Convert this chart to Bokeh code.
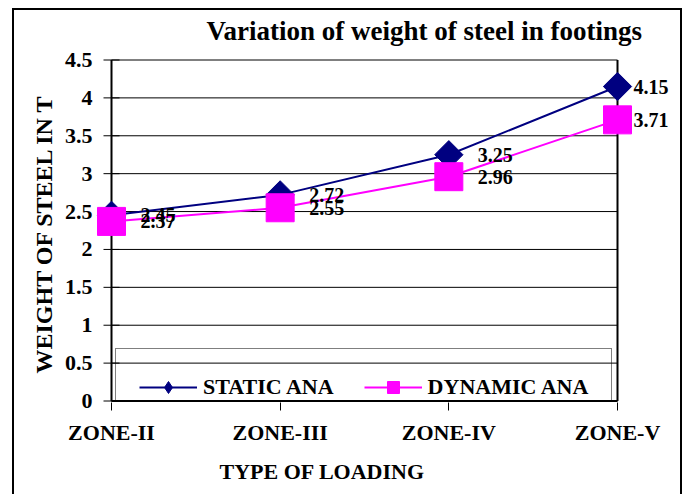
import math
from bokeh.plotting import figure
from bokeh.models import (Range1d, FixedTicker, NumeralTickFormatter,
                          Legend, LegendItem, LabelSet, ColumnDataSource, Title)
from bokeh.embed import file_html
from bokeh.resources import INLINE

categories = ["ZONE-II", "ZONE-III", "ZONE-IV", "ZONE-V"]
static_ana = [2.45, 2.72, 3.25, 4.15]
dynamic_ana = [2.37, 2.55, 2.96, 3.71]
y_ticks = [0, 0.5, 1, 1.5, 2, 2.5, 3, 3.5, 4, 4.5]

FONT = "Liberation Serif"
NAVY = "#000080"
MAGENTA = "#FF00FF"

xi = list(range(len(categories)))
x_first, x_last = xi[0], xi[-1]
y_lo, y_hi = y_ticks[0], y_ticks[-1]

# the frame is wider than the category span so markers and value labels are not cut
PX_PER_X = 506 / (x_last - x_first)
XPAD_L = 16 / PX_PER_X
XPAD_R = 63 / PX_PER_X
YPAD = 1.5 / (341 / (y_hi - y_lo))

p = figure(
    x_range=Range1d(x_first - XPAD_L, x_last + XPAD_R),
    y_range=Range1d(y_lo - YPAD, y_hi + YPAD),
    width=670, height=494,
    output_backend="svg", toolbar_location=None,
    min_border_left=83, min_border_right=2, min_border_top=57, min_border_bottom=92,
)
p.margin = (0, 0, 0, 12)
LINE = "linear-gradient(#000, #000)"
p.styles = {"background": (f"{LINE} 0 8px / 100% 2px no-repeat, "
                           f"{LINE} 0 8px / 2px 100% no-repeat, "
                           f"{LINE} 100% 8px / 2px 100% no-repeat, #fff")}
p.border_fill_alpha = 0
p.background_fill_alpha = 0

p.outline_line_color = None
p.xgrid.grid_line_color = None
p.ygrid.grid_line_color = None

# title
p.title.text = "Variation  of weight of steel in  footings"
p.title.text_font = FONT
p.title.text_font_size = "27px"
p.title.text_font_style = "bold"
p.title.text_color = "black"
p.title.align = "left"
p.title.offset = 111
p.title.standoff = 26

# axes
p.yaxis.ticker = FixedTicker(ticks=y_ticks)
p.yaxis.formatter = NumeralTickFormatter(format="0.[0]")
p.yaxis.axis_label = "WEIGHT OF STEEL  IN T"
p.yaxis.axis_label_standoff = 5
p.yaxis.axis_line_color = None
p.yaxis.major_tick_line_color = None
p.yaxis.major_tick_out = 0
p.yaxis.major_tick_in = 0
p.yaxis.major_label_standoff = 3

p.xaxis.ticker = FixedTicker(ticks=xi)
p.xaxis.major_label_overrides = {i: c for i, c in zip(xi, categories)}
p.xaxis.axis_line_color = None
p.xaxis.major_tick_line_color = "black"
p.xaxis.major_tick_line_width = 1
p.xaxis.major_tick_out = 8
p.xaxis.major_tick_in = 0
p.xaxis.major_label_standoff = 9

for ax in (p.xaxis[0], p.yaxis[0]):
    ax.minor_tick_line_color = None
    ax.major_label_text_font = FONT
    ax.major_label_text_font_size = "22px"
    ax.major_label_text_font_style = "bold"
    ax.major_label_text_color = "black"
    ax.axis_label_text_font = FONT
    ax.axis_label_text_font_size = "24px"
    ax.axis_label_text_font_style = "bold"
    ax.axis_label_text_color = "black"

p.add_layout(Title(text="TYPE  OF LOADING", align="left", offset=124,
                   text_font=FONT, text_font_size="22px", text_font_style="bold",
                   text_color="black", standoff=19), "below")

# gridlines, plot-area border and axis lines drawn at the category span
n_t = len(y_ticks)
p.segment(x0=[x_first] * n_t, x1=[x_last] * n_t, y0=y_ticks, y1=y_ticks,
          line_color="black", line_width=1)
p.segment(x0=[x_last], x1=[x_last], y0=[y_lo], y1=[y_hi], line_color="black", line_width=2)
p.segment(x0=[x_first], x1=[x_last], y0=[y_lo], y1=[y_lo], line_color="black", line_width=2)
p.segment(x0=[x_first], x1=[x_first], y0=[y_lo], y1=[y_hi], line_color="black", line_width=2)
# y tick marks (left half sticks out of the axis)
p.scatter(x=[x_first] * n_t, y=y_ticks, marker="dash", size=16, line_color="black", line_width=1)

src = ColumnDataSource(dict(
    x=xi, s=static_ana, d=dynamic_ana,
    s_txt=[f"{v:.2f}" for v in static_ana],
    d_txt=[f"{v:.2f}" for v in dynamic_ana],
    off=[16 if c == categories[-1] else 29 for c in categories],
))

l1 = p.line("x", "s", source=src, line_color=NAVY, line_width=2)
m1 = p.scatter("x", "s", source=src, marker="square", angle=math.pi / 4, size=20,
               fill_color=NAVY, line_color=NAVY)
m1_leg = p.scatter("x", "s", source=src, marker="diamond", size=12,
                   fill_color=NAVY, line_color=NAVY, visible=False)
l2 = p.line("x", "d", source=src, line_color=MAGENTA, line_width=2)
m2 = p.scatter("x", "d", source=src, marker="square", size=28,
               fill_color=MAGENTA, line_color=MAGENTA)

for col in ("s_txt", "d_txt"):
    p.add_layout(LabelSet(x="x", y=col[0], text=col, source=src, x_offset="off",
                          text_font=FONT, text_font_size="20px", text_font_style="bold",
                          text_color="black", text_baseline="middle", text_align="left"))

legend = Legend(
    items=[LegendItem(label="STATIC ANA", renderers=[l1, m1_leg]),
           LegendItem(label="DYNAMIC ANA", renderers=[l2, m2])],
    orientation="horizontal", location=(20, -24),
    padding=23, spacing=30, label_standoff=6,
    glyph_width=58, glyph_height=30, label_height=30,
    label_text_font=FONT, label_text_font_size="22px", label_text_font_style="bold",
    label_text_color="black",
    border_line_color="black", border_line_width=1,
    background_fill_alpha=0, margin=0,
)
p.add_layout(legend, "center")

open("out.html", "w").write(file_html(p, INLINE))
